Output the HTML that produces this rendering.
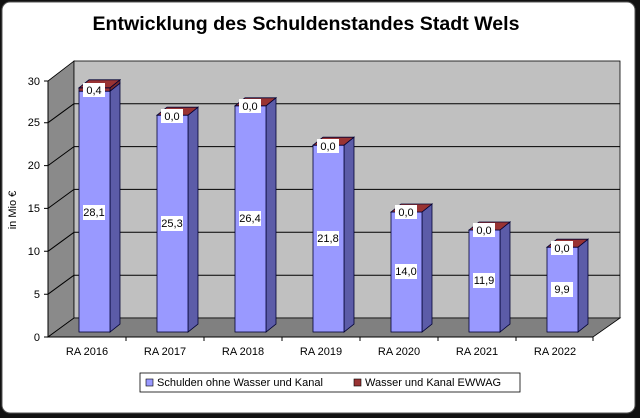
<!DOCTYPE html>
<html><head><meta charset="utf-8"><style>
html,body{margin:0;padding:0;background:#000;}
svg{display:block;font-family:"Liberation Sans",Arial,sans-serif;}
</style></head><body>
<svg width="640" height="418" viewBox="0 0 640 418" xmlns="http://www.w3.org/2000/svg">
<rect x="0" y="0" width="640" height="418" fill="#111"/>
<rect x="2" y="2" width="633" height="411" rx="8" fill="#fff" stroke="#555" stroke-width="1"/>
<text x="306" y="30" font-size="19" font-weight="bold" text-anchor="middle" textLength="427" lengthAdjust="spacingAndGlyphs">Entwicklung des Schuldenstandes Stadt Wels</text>
<!-- walls -->
<polygon points="48,337 74,318 74,61 48,81" fill="#8a8a8a" stroke="#000" stroke-width="0.8"/>
<rect x="74" y="61" width="546" height="257" fill="#c0c0c0" stroke="#000" stroke-width="0.8"/>
<polygon points="48,337 74,318 620,318 593,337" fill="#808080" stroke="#000" stroke-width="0.8"/>
<g stroke="#000" stroke-width="1" fill="none">
<path d="M74,275.2H620M74,232.3H620M74,189.4H620M74,146.6H620M74,103.7H620"/>
<path d="M48,294.2L74,275.2M48,251.3L74,232.3M48,208.4L74,189.4M48,165.6L74,146.6M48,122.7L74,103.7"/>
<path d="M48,81V337H593"/>
<path d="M44,337H48M44,294.2H48M44,251.3H48M44,208.4H48M44,165.6H48M44,122.7H48M44,81H48"/>
<path d="M126,337v4M204,337v4M282,337v4M360,337v4M438,337v4M516,337v4M593,337v4"/>
</g>
<g font-size="11" text-anchor="end" fill="#000">
<text x="40" y="341">0</text><text x="40" y="298">5</text><text x="40" y="255">10</text><text x="40" y="212">15</text><text x="40" y="169">20</text><text x="40" y="126">25</text><text x="40" y="85">30</text>
</g>
<text transform="translate(16,210) rotate(-90)" font-size="11" text-anchor="middle">in Mio €</text>
<!-- bars -->
<g stroke="#000033" stroke-width="0.8">
<!-- i0 -->
<polygon points="110,91.2 120,83.2 120,324 110,332" fill="#5c5ca8"/>
<rect x="79" y="91.2" width="31" height="240.8" fill="#9999ff"/>
<polygon points="110,87.8 120,79.8 120,83.2 110,91.2" fill="#7a2a2a"/>
<rect x="79" y="87.8" width="31" height="3.4" fill="#993333"/>
<polygon points="79,87.8 89,79.8 120,79.8 110,87.8" fill="#993333"/>
<!-- i1 -->
<polygon points="188,115.2 198,107.2 198,324 188,332" fill="#5c5ca8"/>
<rect x="157" y="115.2" width="31" height="216.8" fill="#9999ff"/>
<polygon points="157,115.2 167,107.2 198,107.2 188,115.2" fill="#993333"/>
<!-- i2 -->
<polygon points="266,105.8 276,97.8 276,324 266,332" fill="#5c5ca8"/>
<rect x="235" y="105.8" width="31" height="226.2" fill="#9999ff"/>
<polygon points="235,105.8 245,97.8 276,97.8 266,105.8" fill="#993333"/>
<!-- i3 -->
<polygon points="344,145.2 354,137.2 354,324 344,332" fill="#5c5ca8"/>
<rect x="313" y="145.2" width="31" height="186.8" fill="#9999ff"/>
<polygon points="313,145.2 323,137.2 354,137.2 344,145.2" fill="#993333"/>
<!-- i4 -->
<polygon points="422,212 432,204 432,324 422,332" fill="#5c5ca8"/>
<rect x="391" y="212" width="31" height="120" fill="#9999ff"/>
<polygon points="391,212 401,204 432,204 422,212" fill="#993333"/>
<!-- i5 -->
<polygon points="500,230 510,222 510,324 500,332" fill="#5c5ca8"/>
<rect x="469" y="230" width="31" height="102" fill="#9999ff"/>
<polygon points="469,230 479,222 510,222 500,230" fill="#993333"/>
<!-- i6 -->
<polygon points="578,247.2 588,239.2 588,324 578,332" fill="#5c5ca8"/>
<rect x="547" y="247.2" width="31" height="84.8" fill="#9999ff"/>
<polygon points="547,247.2 557,239.2 588,239.2 578,247.2" fill="#993333"/>
</g>
<!-- value labels -->
<g fill="#fff">
<rect x="83" y="83" width="22" height="14"/><rect x="83" y="205" width="22" height="15"/>
<rect x="161" y="109" width="22" height="14"/><rect x="161" y="216" width="22" height="15"/>
<rect x="239" y="99" width="22" height="14"/><rect x="239" y="211" width="22" height="15"/>
<rect x="317" y="139" width="22" height="14"/><rect x="317" y="231" width="22" height="15"/>
<rect x="395" y="205" width="22" height="14"/><rect x="395" y="264" width="22" height="15"/>
<rect x="473" y="223" width="22" height="14"/><rect x="473" y="273" width="22" height="15"/>
<rect x="551" y="241" width="22" height="14"/><rect x="551" y="282" width="22" height="15"/>
</g>
<g font-size="11" text-anchor="middle" fill="#000">
<text x="94" y="94">0,4</text><text x="94" y="216">28,1</text>
<text x="172" y="120">0,0</text><text x="172" y="227">25,3</text>
<text x="250" y="110">0,0</text><text x="250" y="222">26,4</text>
<text x="328" y="150">0,0</text><text x="328" y="242">21,8</text>
<text x="406" y="216">0,0</text><text x="406" y="275">14,0</text>
<text x="484" y="234">0,0</text><text x="484" y="284">11,9</text>
<text x="562" y="252">0,0</text><text x="562" y="293">9,9</text>
</g>
<g font-size="11" text-anchor="middle">
<text x="87" y="355">RA 2016</text><text x="165" y="355">RA 2017</text><text x="243" y="355">RA 2018</text><text x="321" y="355">RA 2019</text><text x="399" y="355">RA 2020</text><text x="477" y="355">RA 2021</text><text x="555" y="355">RA 2022</text>
</g>
<!-- legend -->
<rect x="140" y="373" width="380" height="19" fill="#fff" stroke="#000" stroke-width="0.8"/>
<rect x="146" y="379" width="7" height="7" fill="#9999ff" stroke="#000" stroke-width="0.6"/>
<text x="157" y="386" font-size="11">Schulden ohne Wasser und Kanal</text>
<rect x="354" y="379" width="7" height="7" fill="#993333" stroke="#000" stroke-width="0.6"/>
<text x="365" y="386" font-size="11">Wasser und Kanal EWWAG</text>
</svg>
</body></html>
